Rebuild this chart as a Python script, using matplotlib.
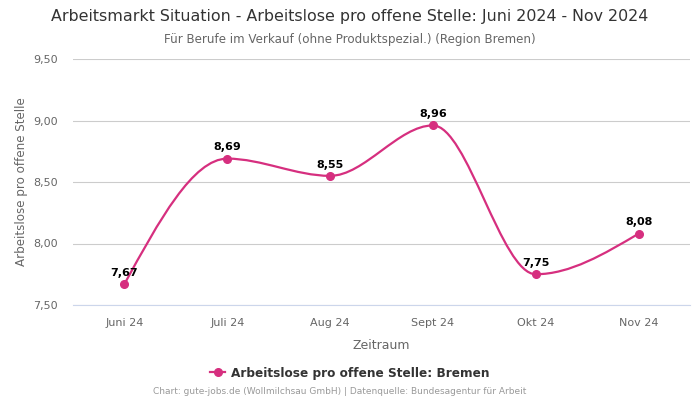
import numpy as np
import matplotlib
matplotlib.use("Agg")
import matplotlib.pyplot as plt
from matplotlib.path import Path
from matplotlib.patches import PathPatch
from matplotlib.lines import Line2D

# Data
monate = ["Juni 24", "Juli 24", "Aug 24", "Sept 24", "Okt 24", "Nov 24"]
werte = [7.67, 8.69, 8.55, 8.96, 7.75, 8.08]
yticks = [7.50, 8.00, 8.50, 9.00, 9.50]

farbe = "#d62f7f"


def monotone_tangenten(x, y):
    # tangents like d3 curveMonotoneX
    n = len(x)
    t = np.zeros(n)
    for i in range(1, n - 1):
        h0 = x[i] - x[i - 1]
        h1 = x[i + 1] - x[i]
        s0 = (y[i] - y[i - 1]) / h0
        s1 = (y[i + 1] - y[i]) / h1
        p = (s0 * h1 + s1 * h0) / (h0 + h1)
        t[i] = (np.sign(s0) + np.sign(s1)) * min(abs(s0), abs(s1), 0.5 * abs(p))
    h = x[1] - x[0]
    t[0] = (3 * (y[1] - y[0]) / h - t[1]) / 2
    h = x[-1] - x[-2]
    t[-1] = (3 * (y[-1] - y[-2]) / h - t[-2]) / 2
    return t


x = np.arange(len(werte), dtype=float)
y = np.array(werte)
t = monotone_tangenten(x, y)

verts = [(x[0], y[0])]
codes = [Path.MOVETO]
for i in range(len(x) - 1):
    dx = (x[i + 1] - x[i]) / 3
    verts += [(x[i] + dx, y[i] + t[i] * dx),
              (x[i + 1] - dx, y[i + 1] - t[i + 1] * dx),
              (x[i + 1], y[i + 1])]
    codes += [Path.CURVE4] * 3

fig = plt.figure(figsize=(7, 4), dpi=100)
ax = fig.add_axes([73 / 700, 1 - 305 / 400, 617 / 700, 246 / 400])

ax.add_patch(PathPatch(Path(verts, codes), facecolor="none", edgecolor=farbe, lw=1.6, zorder=3))
ax.plot(x, y, "o", color=farbe, ms=5.5, zorder=4)

for xi, yi in zip(x, y):
    ax.annotate(f"{yi:.2f}".replace(".", ","), (xi, yi), xytext=(0, 4.5),
                textcoords="offset points", ha="center", va="bottom",
                fontsize=8, fontweight="bold", color="black")

ax.set_xlim(-0.5, len(werte) - 0.5)
ax.set_ylim(7.5, 9.5)
ax.set_yticks(yticks)
ax.set_yticklabels([f"{v:.2f}".replace(".", ",") for v in yticks])
ax.set_xticks(x)
ax.set_xticklabels(monate)
ax.grid(axis="y", color="#cccccc", lw=0.8)
ax.set_axisbelow(True)
for s in ["top", "right", "left"]:
    ax.spines[s].set_visible(False)
ax.spines["bottom"].set_color("#ccd6eb")
ax.tick_params(axis="both", length=0, labelsize=8, labelcolor="#666666")
ax.tick_params(axis="x", pad=9)
ax.tick_params(axis="y", pad=11)

ax.set_xlabel("Zeitraum", fontsize=9, color="#666666", labelpad=8)
ax.set_ylabel("Arbeitslose pro offene Stelle", fontsize=8.6, color="#666666", labelpad=4)

fig.text(0.5, 1 - 17 / 400, "Arbeitsmarkt Situation - Arbeitslose pro offene Stelle: Juni 2024 - Nov 2024",
         ha="center", va="center", fontsize=11.4, color="#333333")
fig.text(0.5, 1 - 39 / 400, "Für Berufe im Verkauf (ohne Produktspezial.) (Region Bremen)",
         ha="center", va="center", fontsize=8.6, color="#666666")

handle = Line2D([], [], color=farbe, marker="o", lw=1.6, ms=5.5)
fig.legend([handle], ["Arbeitslose pro offene Stelle: Bremen"], loc="center",
           bbox_to_anchor=(0.5, 1 - 373 / 400), frameon=False, handlelength=1.2,
           handletextpad=0.5, prop={"weight": "bold", "size": 8.7}, labelcolor="#333333")

fig.text(340 / 700, 1 - 392 / 400, "Chart: gute-jobs.de (Wollmilchsau GmbH) | Datenquelle: Bundesagentur für Arbeit",
         ha="center", va="center", fontsize=6.5, color="#999999")

fig.savefig("out.png", dpi=100)
